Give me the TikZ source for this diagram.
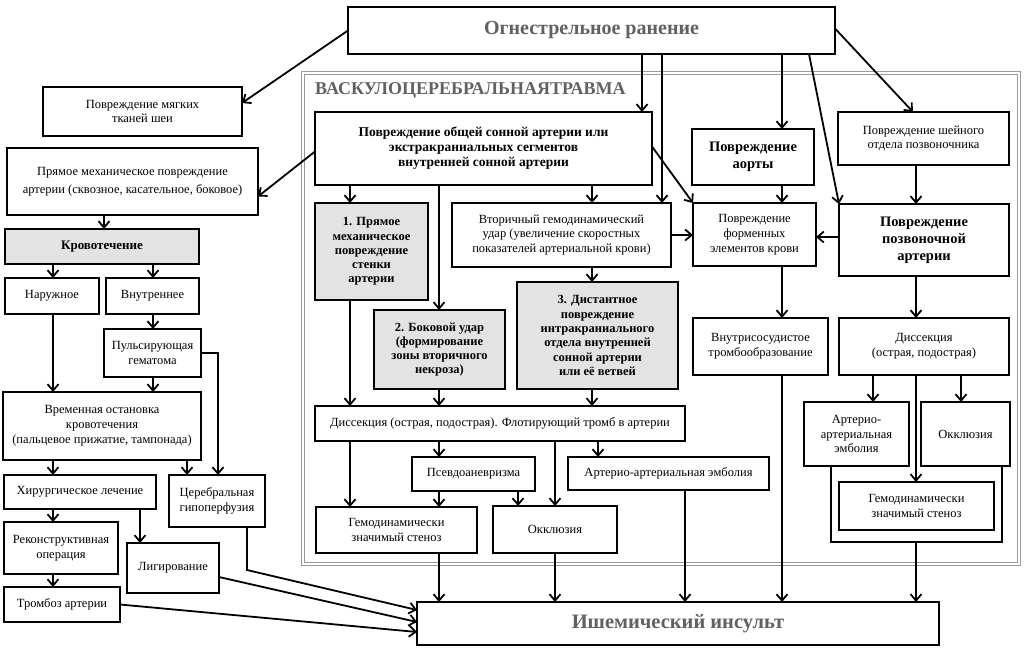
\documentclass[tikz,border=0pt]{standalone}
\usepackage{fontspec}
\setmainfont{Liberation Serif}
\usetikzlibrary{arrows.meta,calc}
\definecolor{hdr}{gray}{0.38}
\definecolor{gfill}{gray}{0.89}
\newcommand{\mybox}[7][box]{\node[#1,minimum width={#5pt-#3pt},minimum height={#6pt-#4pt}] (#2) at ({(#3+#5)/2},{(#4+#6)/2}) {#7};}
\begin{document}
\begin{tikzpicture}[x=1pt,y=-1pt,
  box/.style={draw=black,line width=2.2pt,fill=white,inner sep=1pt,outer sep=0pt,align=center,font=\fontsize{12.5}{14.8}\selectfont},
  bbox/.style={box,font=\fontsize{13.5}{15}\selectfont\bfseries},
  gbox/.style={box,fill=gfill,font=\fontsize{12.5}{14.3}\selectfont\bfseries},
  arr/.style={line width=1.8pt,-{Straight Barb[length=6.5pt,width=11pt,line width=1.8pt]}},
  ln/.style={line width=1.8pt}]
\useasboundingbox (0,0) rectangle (1024,648);
% frame
\node[draw=gray!80,double=white,double distance=2pt,line width=1pt,minimum width=716pt,minimum height=491pt,inner sep=0pt] (frame) at (661,318.5) {};
\node[anchor=west,font=\fontsize{18}{18}\selectfont\bfseries,text=hdr,inner sep=0pt] (title) at (315,90) {ВАСКУЛОЦЕРЕБРАЛЬНАЯТРАВМА};
% column coordinates
\foreach \x in {53,104,140,153,187,218,247,350,439,518,555,592,598,642,662,685,782,809,831,873,913,916,961,1002}{\coordinate (c\x) at (\x,0);}
\coordinate (c570) at (0,570);
\coordinate (ubot) at (916,542);
% boxes
\mybox[box,font=\fontsize{20}{22}\selectfont\bfseries,text=hdr]{ogn}{348}{7}{835}{54}{Огнестрельное ранение}
\mybox{myag}{43}{87}{242}{136}{Повреждение мягких\\тканей шеи}
\mybox{pryam}{7}{148}{258}{215}{Прямое механическое повреждение\\[3pt]артерии (сквозное, касательное, боковое)}
\mybox[gbox,font=\fontsize{13}{14}\selectfont\bfseries]{krov}{5}{229}{199}{264}{Кровотечение}
\mybox{nar}{5}{278}{99}{314}{Наружное}
\mybox{vnutr}{106}{278}{199}{314}{Внутреннее}
\mybox{puls}{104}{329}{201}{377}{Пульсирующая\\гематома}
\mybox{vrem}{3}{392}{201}{460}{Временная остановка\\кровотечения\\(пальцевое прижатие, тампонада)}
\mybox{hir}{4}{475}{156}{509}{Хирургическое лечение}
\mybox{cereb}{169}{475}{265}{527}{Церебральная\\гипоперфузия}
\mybox{rekon}{4}{522}{118}{574}{Реконструктивная\\операция}
\mybox{lig}{127}{543}{219}{593}{Лигирование}
\mybox{tromb}{4}{587}{120}{622}{Тромбоз артерии}
\mybox[bbox]{osa}{315}{112}{652}{185}{Повреждение общей сонной артерии или\\экстракраниальных сегментов\\внутренней сонной артерии}
\mybox[gbox]{p1}{315}{203}{428}{300}{1. Прямое\\механическое\\повреждение\\стенки\\артерии}
\mybox{vtor}{452}{203}{671}{267}{Вторичный гемодинамический\\удар (увеличение скоростных\\показателей артериальной крови)}
\mybox[gbox]{p2}{374}{310}{505}{389}{2. Боковой удар\\(формирование\\зоны вторичного\\некроза)}
\mybox[gbox]{p3}{517}{282}{678}{389}{3. Дистантное\\повреждение\\интракраниального\\отдела внутренней\\сонной артерии\\или её ветвей}
\mybox{diss}{315}{406}{685}{441}{Диссекция (острая, подострая). Флотирующий тромб в артерии}
\mybox{psev}{412}{457}{535}{491}{Псевдоаневризма}
\mybox{artI}{568}{457}{769}{490}{Артерио-артериальная эмболия}
\mybox{gemI}{316}{507}{477}{553}{Гемодинамически\\значимый стеноз}
\mybox{okI}{493}{506}{617}{553}{Окклюзия}
\mybox[bbox,font=\fontsize{14.5}{17}\selectfont\bfseries]{aort}{692}{129}{814}{185}{Повреждение\\аорты}
\mybox{formen}{693}{203}{816}{266}{Повреждение\\форменных\\элементов крови}
\mybox{vnutri}{693}{318}{828}{375}{Внутрисосудистое\\тромбообразование}
\mybox{sheyn}{838}{112}{1009}{165}{Повреждение шейного\\отдела позвоночника}
\mybox[bbox,font=\fontsize{14.5}{17}\selectfont\bfseries]{pozv}{839}{204}{1009}{276}{Повреждение\\позвоночной\\артерии}
\mybox{dissR}{839}{318}{1009}{375}{Диссекция\\(острая, подострая)}
\mybox{artR}{804}{402}{909}{466}{Артерио-\\артериальная\\эмболия}
\mybox{okR}{921}{402}{1010}{466}{Окклюзия}
\mybox{gemR}{839}{482}{994}{530}{Гемодинамически\\значимый стеноз}
\mybox[box,font=\fontsize{20.5}{22}\selectfont\bfseries,text=hdr]{isch}{417}{602}{939}{645}{Ишемический инсульт}
% connectors from top
\draw[arr] (ogn.west) -- ([yshift=8.5pt]myag.east);
\draw[arr] (ogn.south -| c642) -- (osa.north -| c642);
\draw[arr] (ogn.south -| c662) -- (vtor.north -| c662);
\draw[arr] (ogn.south -| c782) -- (aort.north -| c782);
\draw[arr] (ogn.south -| c809) -- (pozv.north west);
\draw[arr] ([yshift=2pt]ogn.east) -- (sheyn.north -| c913);
% ОСА
\draw[arr] ([yshift=-3pt]osa.west) -- ([yshift=-15pt]pryam.east);
\draw[arr] (osa.south -| c350) -- (p1.north -| c350);
\draw[arr] (osa.south -| c439) -- (p2.north -| c439);
\draw[arr] (osa.south -| c592) -- (vtor.north -| c592);
\draw[arr] ([yshift=2pt]osa.east) -- (formen.north west);
\draw[arr] (vtor.east) -- (vtor.east -| formen.west);
\draw[arr] (vtor.south -| c592) -- (p3.north -| c592);
\draw[arr] (aort.south -| c782) -- (formen.north -| c782);
\draw[arr] (sheyn.south -| c916) -- (pozv.north -| c916);
\draw[arr] ([yshift=3pt]pozv.west) -- ([yshift=3pt]pozv.west -| formen.east);
\draw[arr] (formen.south -| c782) -- (vnutri.north -| c782);
\draw[arr] (pozv.south -| c916) -- (dissR.north -| c916);
\draw[arr] (dissR.south -| c873) -- (artR.north -| c873);
\draw[arr] (dissR.south -| c961) -- (okR.north -| c961);
\draw[arr] (dissR.south -| c916) -- (gemR.north -| c916);
\draw[ln] (artR.south -| c831) -- (c831 |- ubot) -- (c1002 |- ubot) -- (okR.south -| c1002);
\draw[arr] (ubot) -- (isch.north -| ubot);
\draw[arr] (vnutri.south -| c782) -- (isch.north -| c782);
% inner left
\draw[arr] (p1.south -| c350) -- (diss.north -| c350);
\draw[arr] (p2.south -| c439) -- (diss.north -| c439);
\draw[arr] (p3.south -| c592) -- (diss.north -| c592);
\draw[arr] (diss.south -| c350) -- (gemI.north -| c350);
\draw[arr] (diss.south -| c439) -- (psev.north -| c439);
\draw[arr] (diss.south -| c555) -- (okI.north -| c555);
\draw[arr] (diss.south -| c598) -- (artI.north -| c598);
\draw[arr] (psev.south -| c439) -- (gemI.north -| c439);
\draw[arr] (psev.south -| c518) -- (okI.north -| c518);
\draw[arr] (gemI.south -| c439) -- (isch.north -| c439);
\draw[arr] (okI.south -| c555) -- (isch.north -| c555);
\draw[arr] (artI.south -| c685) -- (isch.north -| c685);
% left column
\draw[arr] (pryam.south -| c104) -- (krov.north -| c104);
\draw[arr] (krov.south -| c53) -- (nar.north -| c53);
\draw[arr] (krov.south -| c153) -- (vnutr.north -| c153);
\draw[arr] (nar.south -| c53) -- (vrem.north -| c53);
\draw[arr] (vnutr.south -| c153) -- (puls.north -| c153);
\draw[arr] (puls.south -| c153) -- (vrem.north -| c153);
\draw[arr] (puls.east) -- (puls.east -| c218) -- (cereb.north -| c218);
\draw[arr] (vrem.south -| c53) -- (hir.north -| c53);
\draw[arr] (vrem.south -| c187) -- (cereb.north -| c187);
\draw[arr] (hir.south -| c53) -- (rekon.north -| c53);
\draw[arr] (hir.south -| c140) -- (lig.north -| c140);
\draw[arr] (rekon.south -| c53) -- (tromb.north -| c53);
\draw[arr] (cereb.south -| c247) -- (c247 |- c570) -- ([yshift=13.5pt]isch.west);
\draw[arr] ([yshift=-9pt]lig.east) -- ([yshift=1.5pt]isch.west);
\draw[arr] (tromb.east) -- ([yshift=-8.5pt]isch.west);
\end{tikzpicture}
\end{document}
